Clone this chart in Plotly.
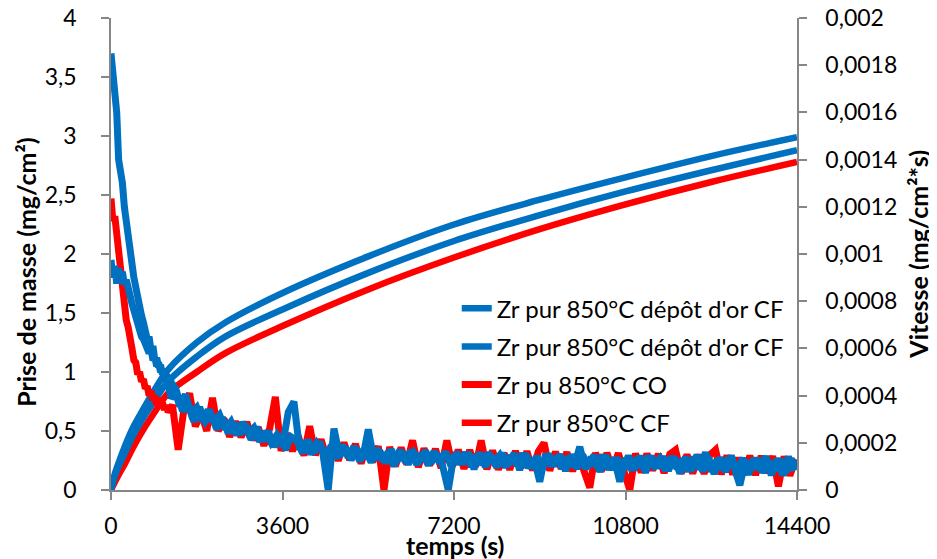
import plotly.graph_objects as go

# ---------------- data ----------------
# mass gain curves (left axis, mg/cm2)
t_mass = [0, 60, 150, 300, 450, 600, 900, 1200, 1800, 2400, 3600, 5400, 7200, 9000, 10800, 12600, 14400]
mass_or_cf_1 = [0, 0.11, 0.22, 0.38, 0.52, 0.63, 0.84, 1.02, 1.25, 1.42, 1.67, 1.98, 2.25, 2.46, 2.65, 2.83, 2.99]
mass_or_cf_2 = [0, 0.09, 0.19, 0.32, 0.45, 0.56, 0.75, 0.92, 1.13, 1.30, 1.53, 1.84, 2.11, 2.33, 2.53, 2.71, 2.88]
mass_pur_cf = [0, 0.05, 0.12, 0.23, 0.35, 0.46, 0.65, 0.82, 1.00, 1.16, 1.39, 1.70, 1.97, 2.21, 2.42, 2.61, 2.78]

# rate curves (right axis), values in units of 1e-5 mg/cm2/s
# each recording has its own sampling instants
t_rate_a = list(range(0, 1201, 40)) + list(range(1320, 14401, 120))
t_rate_b = list(range(0, 1201, 40)) + list(range(1260, 14341, 120))
t_rate_r = list(range(0, 1201, 40)) + list(range(1290, 14371, 120))

rate_or_a_e5 = [
    185, 177.5, 165, 160, 140, 136, 130, 120, 112.5, 105, 100, 96, 90, 85, 81, 77.5,
    74, 71, 67.5, 64, 65, 59, 61, 55, 56, 52, 53, 49, 50, 46, 47.5,
    44, 35.5, 40.5, 32.5, 35, 29, 34, 29, 31.8, 25.8, 29, 23.3, 28.6, 24, 26.4, 20.6,
    24.8, 20, 23.3, 18.6, 33, 37.4, 17, 20.6, 15.2, 19.8, 16.4, 0, 26, 14.4,
    18.1, 12.8, 17.5, 13.2, 25.7, 12.8, 16.6, 11.4, 17.2, 12.1, 16, 10.9, 15.8, 12.7,
    16.6, 11.5, 15.4, 10.3, 0, 15.1, 11, 15.9, 9.9, 14.9, 10.8, 15.8, 11.7, 14.7,
    9.6, 14.6, 10.5, 15.5, 9.4, 13.4, 3.5, 15.3, 10.2, 14.2, 9.1, 14, 10, 18.3,
    8.9, 13.9, 9.8, 14.8, 8.7, 13.7, 3.5, 13.5, 8.5, 13.5, 9.4, 14.4, 10.3, 13.3,
    8.2, 14.2, 9.1, 13, 8, 14, 8.9, 15.9, 7.8, 12.8, 8.7, 13.7, 9.6, 2,
    12.5, 8.5, 13.4, 7.4, 12.3, 8.3, 13.2, 7.2, 13.1, 9.1,
]
rate_or_b_e5 = [
    97.5, 90, 95, 87.5, 94, 88, 92.5, 87, 89, 83, 82.5, 79, 76, 72.5, 70, 68,
    65, 64, 62, 59, 58, 60, 55, 56, 52.5, 54, 50, 51, 47.5, 49, 45,
    39, 41.5, 33.5, 36.5, 29, 35, 29, 32, 25.8, 30.8, 24, 28.3, 23.6, 28, 21.4, 26.6,
    20.8, 25, 18.3, 23.6, 17, 22.5, 21, 15.6, 21.2, 15.8, 20.4, 14, 18.7, 13.4,
    19.1, 13.8, 18.5, 12.2, 17, 11.8, 17.6, 12.4, 16.2, 10.1, 17, 11.9, 16.8, 10.7,
    15.6, 10.5, 16.4, 11.3, 16.2, 10.1, 16, 11, 15.9, 8.9, 15.8, 9.8, 14.7, 9.7,
    15.6, 10.6, 15.5, 8.5, 15.4, 9.4, 14.3, 9.3, 15.2, 10.2, 15.1, 8.1, 15, 9,
    14.9, 9.9, 14.8, 7.8, 14.7, 8.7, 13.6, 8.6, 14.5, 8.5, 14.4, 7.4, 14.3, 9.3,
    14.2, 8.2, 14.1, 7, 14, 8, 14.9, 7.9, 13.8, 6.8, 13.7, 7.7, 14.6, 7.6,
    13.5, 6.5, 13.4, 8.4, 14.3, 6.3, 13.2, 6.2, 14.1, 8.1,
]
rate_pur_e5 = [
    123.5, 114, 116, 108, 103, 96, 84, 79, 72, 69, 62, 60, 55, 54, 49, 50,
    46, 47, 43, 44, 40, 42, 38, 40, 36, 39, 35, 37, 34, 36, 33,
    36, 17, 34, 41, 27, 32.5, 25, 39, 25, 30.3, 22.6, 29, 22.4, 28.8, 21.2, 26.6,
    18.8, 26, 39.5, 16.6, 24, 16.5, 23, 14.6, 27, 14.8, 21.4, 13, 19.7, 12.4,
    20.1, 12.8, 19.5, 11.2, 19, 11.8, 18.6, 0, 18.2, 10.1, 18, 10.9, 21, 9.7,
    17.6, 10.5, 17.4, 9.3, 21, 10.1, 17, 9, 16.9, 9.9, 21, 8.8, 16.7, 8.7,
    15.6, 8.6, 16.5, 9.5, 16.4, 8.4, 16.3, 20, 8.2, 16.2, 9.1, 16, 8, 15,
    7.9, 1, 15.8, 7.8, 15.7, 8.7, 15.6, 7.6, 0, 15.5, 7.4, 15.4, 8.3, 15.3,
    7.2, 15.2, 17, 7, 15, 7, 14.9, 6.9, 14.8, 17, 6.7, 14.6, 6.6, 13.6,
    6.5, 14.5, 6.4, 14.4, 7.3, 14.3, 1.5, 14.2, 6.1, 13.1,
]

# tick labels
x_ticks = [0, 3600, 7200, 10800, 14400]
x_tick_labels = ["0", "3600", "7200", "10800", "14400"]
y1_ticks = [0, 0.5, 1, 1.5, 2, 2.5, 3, 3.5, 4]
y1_tick_labels = ["0", "0,5", "1", "1,5", "2", "2,5", "3", "3,5", "4"]
y2_ticks = [0, 0.0002, 0.0004, 0.0006, 0.0008, 0.001, 0.0012, 0.0014, 0.0016, 0.0018, 0.002]
y2_tick_labels = ["0", "0,0002", "0,0004", "0,0006", "0,0008", "0,001", "0,0012",
                  "0,0014", "0,0016", "0,0018", "0,002"]

legend_names = ["Zr pur 850°C dépôt d'or CF", "Zr pur 850°C dépôt d'or CF",
                "Zr pu 850°C CO", "Zr pur 850°C CF"]

BLUE = "#0070C0"
RED = "#FF0000"
FONT = "Lato"
LW = 6.5
LW_RATE = 7

def e5(vals):
    return [v * 1e-5 for v in vals]

fig = go.Figure()
# mass curves (left axis)
fig.add_trace(go.Scatter(x=t_mass, y=mass_pur_cf, mode="lines", line=dict(color=RED, width=LW, shape="spline"),
                         name=legend_names[3], legendgroup="g4", legendrank=4))
fig.add_trace(go.Scatter(x=t_mass, y=mass_or_cf_2, mode="lines", line=dict(color=BLUE, width=LW, shape="spline"),
                         name=legend_names[1], legendgroup="g2", legendrank=2))
fig.add_trace(go.Scatter(x=t_mass, y=mass_or_cf_1, mode="lines", line=dict(color=BLUE, width=LW, shape="spline"),
                         name=legend_names[0], legendgroup="g1", legendrank=1))
# rate curves (right axis)
fig.add_trace(go.Scatter(x=t_rate_r, y=e5(rate_pur_e5), mode="lines", line=dict(color=RED, width=LW_RATE),
                         name=legend_names[2], legendgroup="g3", legendrank=3, yaxis="y2"))
fig.add_trace(go.Scatter(x=t_rate_b, y=e5(rate_or_b_e5), mode="lines", line=dict(color=BLUE, width=LW_RATE),
                         name=legend_names[1], showlegend=False, yaxis="y2"))
fig.add_trace(go.Scatter(x=t_rate_a, y=e5(rate_or_a_e5), mode="lines", line=dict(color=BLUE, width=LW_RATE),
                         name=legend_names[0], showlegend=False, yaxis="y2"))

axis_common = dict(showgrid=False, zeroline=False, showline=True, linecolor="#868686", linewidth=1.5,
                   ticks="outside", ticklen=8, tickcolor="#868686", tickwidth=1.5, automargin=False,
                   ticklabeloverflow="allow",
                   tickfont=dict(family=FONT, size=23, color="#000000"))

# the page adds an 8 px body margin, so the figure is drawn slightly smaller
fig.update_layout(
    width=929, height=551,
    margin=dict(l=103, r=140, t=10, b=69, autoexpand=False),
    paper_bgcolor="white", plot_bgcolor="white",
    font=dict(family=FONT, size=23, color="#000000"),
    showlegend=True,
    xaxis=dict(range=[0, 14400], tickvals=x_ticks, ticktext=x_tick_labels, ticklabelstandoff=7, **axis_common),
    yaxis=dict(range=[0, 4], tickvals=y1_ticks, ticktext=y1_tick_labels, ticklabelstandoff=20, **axis_common),
    yaxis2=dict(range=[0, 0.002], tickvals=y2_ticks, ticktext=y2_tick_labels, overlaying="y", side="right",
                ticklabelstandoff=14, **axis_common),
    legend=dict(x=0.504, y=0.432, xanchor="left", yanchor="top", bgcolor="rgba(0,0,0,0)",
                font=dict(family=FONT, size=24), traceorder="grouped", tracegroupgap=4, itemwidth=30),
    annotations=[
        dict(text="<b>Prise de masse (mg/cm²)</b>", xref="paper", yref="paper", x=-0.124, y=0.462,
             textangle=-90, showarrow=False, xanchor="center", yanchor="middle", font=dict(size=25)),
        dict(text="<b>Vitesse (mg/cm²*s)</b>", xref="paper", yref="paper", x=1.176, y=0.5,
             textangle=-90, showarrow=False, xanchor="center", yanchor="middle", font=dict(size=25)),
        dict(text="<b>temps (s)</b>", xref="paper", yref="paper", x=0.501, y=-0.1165,
             showarrow=False, xanchor="center", yanchor="middle", font=dict(size=25)),
    ],
)

fig.write_html("out.html")
